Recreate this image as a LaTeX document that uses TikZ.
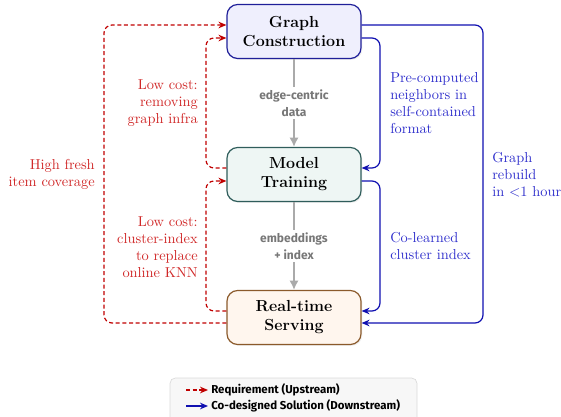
\documentclass[tikz,border=0pt]{standalone}
\usepackage{fontspec}
\newfontfamily\labelsans{Fira Sans}
\usetikzlibrary{arrows.meta,shadows}
\definecolor{gcfill}{HTML}{EFEFFD}
\definecolor{gcdraw}{HTML}{1F1F99}
\definecolor{mtfill}{HTML}{EEF6F4}
\definecolor{mtdraw}{HTML}{2F5D5B}
\definecolor{rsfill}{HTML}{FFF6EE}
\definecolor{rsdraw}{HTML}{8B5A2B}
\definecolor{reqline}{HTML}{C00000}
\definecolor{reqtext}{HTML}{D02828}
\definecolor{solline}{HTML}{1010B0}
\definecolor{soltext}{HTML}{3030CC}
\definecolor{flowline}{HTML}{AAAAAA}
\definecolor{flowtext}{HTML}{777777}
\begin{document}
\begin{tikzpicture}[x=0.75pt,y=-0.75pt,
  stage/.style={draw, line width=0.9pt, rounded corners=8pt, minimum width=100.5pt, minimum height=40.5pt,
    align=center, font=\fontsize{12}{14.25}\selectfont\bfseries, inner sep=2pt,
    drop shadow={opacity=0.12, shadow xshift=1pt, shadow yshift=-1pt}},
  flow/.style={draw=flowline, line width=1.4pt, -{Latex[length=7pt,width=7pt]}},
  glabel/.style={fill=white, text=flowtext, align=center, font=\labelsans\fontsize{9}{12.5}\selectfont\bfseries, inner sep=2pt},
  req/.style={draw=reqline, line width=0.9pt, dash pattern=on 3pt off 2pt, rounded corners=6pt, -{Stealth[length=6pt,width=5pt]}},
  sol/.style={draw=solline, line width=0.9pt, rounded corners=6pt, -{Stealth[length=6pt,width=5pt]}},
  reqlabel/.style={text=reqtext, align=right, font=\fontsize{10.8}{12.75}\selectfont, inner sep=0pt},
  sollabel/.style={text=soltext, align=left, font=\fontsize{10.8}{12.75}\selectfont, inner sep=0pt},
  legendtext/.style={font=\labelsans\fontsize{8.6}{10}\selectfont\bfseries, inner sep=0pt, anchor=west}
]
\useasboundingbox (0,0) rectangle (561,417);

% stages
\node[stage, fill=gcfill, draw=gcdraw] (gc) at (294,31.5) {Graph\\Construction};
\node[stage, fill=mtfill, draw=mtdraw] (mt) at (294,174.5) {Model\\Training};
\node[stage, fill=rsfill, draw=rsdraw] (rs) at (294,317.5) {Real-time\\Serving};

% data flow
\draw[flow] (gc) -- node[glabel] (fl1) {edge-centric\\data} (mt);
\draw[flow] (mt) -- node[glabel] (fl2) {embeddings\\+ index} (rs);

% requirements (upstream)
\draw[req] (rs.west |- 0,323) -| (104,25) -- (gc.west |- 0,25);
\draw[req] (mt.west |- 0,168) -| (206,38) -- (gc.west |- 0,38);
\draw[req] (rs.west |- 0,311) -| (206,181) -- (mt.west |- 0,181);

\node[reqlabel, anchor=east] (l1) at (198,103) {Low cost:\\removing\\graph infra};
\node[reqlabel, anchor=east] (l2) at (95,174) {High fresh\\item coverage};
\node[reqlabel, anchor=east] (l3) at (198,247) {Low cost:\\cluster-index\\to replace\\online KNN};

% solutions (downstream)
\draw[sol] (gc.east |- 0,25) -| (483,323) -- (rs.east |- 0,323);
\draw[sol] (gc.east |- 0,38) -| (380,168) -- (mt.east |- 0,168);
\draw[sol] (mt.east |- 0,181) -| (380,311) -- (rs.east |- 0,311);

\node[sollabel, anchor=west] (s1) at (390,103.5) {Pre-computed\\neighbors in\\self-contained\\format};
\node[sollabel, anchor=west] (s2) at (390,246.5) {Co-learned\\cluster index};
\node[sollabel, anchor=west] (s3) at (492,174.5) {Graph\\rebuild\\in $<$1 hour};

% legend
\draw[draw=black!15, fill=black!3, rounded corners=4pt, line width=0.5pt] (170,378) rectangle (417,425);
\coordinate (a1) at (186,390);
\coordinate (b1) at (208,390);
\coordinate (a2) at (186,406);
\coordinate (b2) at (208,406);
\draw[req] (a1) -- (b1);
\draw[sol] (a2) -- (b2);
\node[legendtext] (t1) at (211,390) {Requirement (Upstream)};
\node[legendtext] (t2) at (211,406) {Co-designed Solution (Downstream)};
\end{tikzpicture}
\end{document}
